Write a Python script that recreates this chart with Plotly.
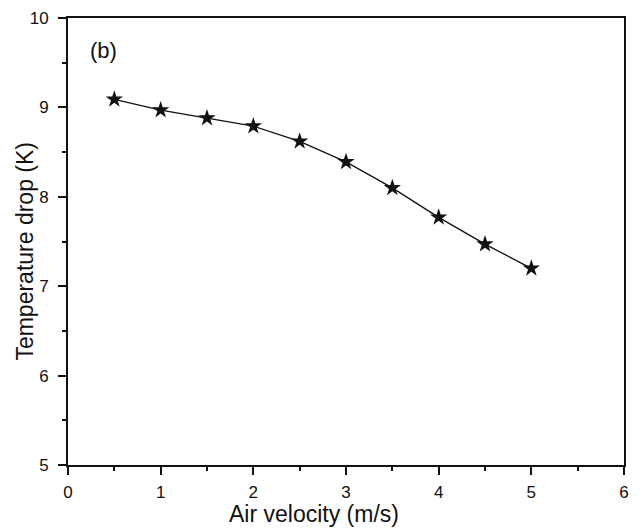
import plotly.graph_objects as go

air_velocity = [0.5, 1.0, 1.5, 2.0, 2.5, 3.0, 3.5, 4.0, 4.5, 5.0]
temp_drop = [9.09, 8.97, 8.88, 8.79, 8.62, 8.39, 8.10, 7.77, 7.47, 7.20]

x_ticks = [0, 1, 2, 3, 4, 5, 6]
y_ticks = [5, 6, 7, 8, 9, 10]

FONT = "Liberation Sans, Arial, sans-serif"
INK = "#111111"

fig = go.Figure()
fig.add_trace(go.Scatter(
    x=air_velocity, y=temp_drop, mode="lines+markers",
    line=dict(color=INK, width=1.3),
    marker=dict(symbol="star", size=13, color=INK),
    showlegend=False,
))

axis_common = dict(
    showgrid=False, zeroline=False, showline=True, linecolor=INK, linewidth=2,
    mirror=True, ticks="outside", ticklen=8, tickwidth=2, tickcolor=INK,
    tickfont=dict(family=FONT, size=17, color=INK), automargin=False,
    minor=dict(ticks="outside", ticklen=4, tickwidth=1.5, tickcolor=INK, dtick=0.5),
)

fig.update_xaxes(range=[0, 6], tickvals=x_ticks, ticklabelstandoff=3, **axis_common)
fig.update_yaxes(range=[5, 10], tickvals=y_ticks, ticklabelstandoff=6, **axis_common)

fig.add_annotation(x=0.22, y=9.64, text="(b)", showarrow=False, xanchor="left", yanchor="middle",
                   font=dict(family=FONT, size=22, color=INK))

# axis titles
fig.add_annotation(xref="paper", yref="paper", x=0.4424, y=-0.11, text="Air velocity (m/s)",
                   showarrow=False, xanchor="center", yanchor="middle",
                   font=dict(family=FONT, size=23, color=INK))
fig.add_annotation(xref="paper", yref="paper", x=-0.079, y=0.4776, text="Temperature drop (K)",
                   showarrow=False, xanchor="center", yanchor="middle", textangle=-90,
                   font=dict(family=FONT, size=23, color=INK))

fig.update_layout(
    width=632, height=523,
    margin=dict(l=60, r=16, t=10, b=66),
    plot_bgcolor="white", paper_bgcolor="white",
)

fig.write_html("out.html")
